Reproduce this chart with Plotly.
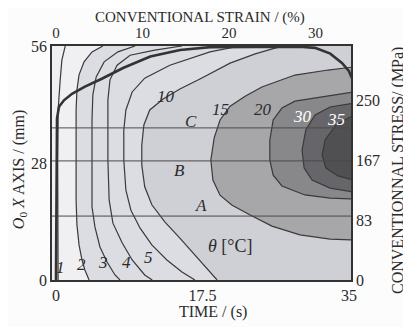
import plotly.graph_objects as go

# ---------------- data ----------------
# Isotherms theta (°C): time (s) vs O0X position (mm)
T_1 = [1.1, 0.7, 0.5, 0.25, 0.2, 0.2, 0.25]
MM_1 = [56, 52.6, 47.9, 40.7, 28.7, 9.6, 0]

T_2 = [5.6, 4.3, 3.35, 2.75, 2.5, 2.4, 2.4, 2.4, 2.5, 2.75, 3.1, 3.45, 3.95]
MM_2 = [56, 54.6, 52.2, 49.1, 45.5, 40.7, 28.7, 19.1, 13.2, 8.4, 4.8, 2.4, 0]

T_3 = [9.45, 7.4, 5.75, 4.8, 4.4, 4.3, 4.3, 4.3, 4.65, 5.25, 6.1, 7.05, 7.65]
MM_3 = [56, 54.6, 52.2, 48.6, 44.3, 38.3, 28.7, 17.5, 12.7, 7.9, 4.3, 1.2, 0]

T_4 = [15.05, 11.8, 8.85, 7.3, 6.45, 6.2, 6.2, 6.35, 6.8, 7.9, 9.1, 10.6, 11.5]
MM_4 = [56, 55.0, 53.8, 51.4, 47.9, 43.1, 28.7, 19.1, 13.6, 8.9, 4.8, 1.2, 0]

T_5 = [22.0, 18.4, 13.6, 10.6, 9.1, 8.35, 8.1, 8.1, 8.35, 8.95, 10.05, 11.45, 13.25, 15.05, 16.6]
MM_5 = [56, 54.6, 51.4, 48.3, 45.0, 40.7, 35.9, 28.7, 21.5, 16.7, 12.4, 8.4, 4.8, 1.9, 0]

T_10 = [27.4, 26.15, 23.8, 20.8, 17.2, 14.8, 12.8, 11.2, 10.5, 10.25, 10.25, 10.6, 11.45,
        13.0, 14.8, 16.6, 18.15, 19.25]
MM_10 = [56, 55.5, 54.1, 51.9, 48.1, 45.7, 43.3, 40.7, 37.1, 32.3, 27.5, 22.3, 18.0,
         13.9, 10.0, 6.0, 2.4, 0]

T_15 = [35.6, 32.5, 28.55, 24.6, 22.6, 20.8, 19.6, 18.9, 18.5, 18.75, 19.6, 21.0, 23.2,
        25.8, 29.15, 32.75, 35.6]
MM_15 = [51.0, 50.25, 49.05, 46.2, 44.0, 41.6, 38.3, 34.0, 28.7, 23.9, 20.3, 17.95, 15.55,
         12.9, 10.8, 9.8, 9.6]

T_20 = [35.6, 31.55, 28.55, 27.0, 25.95, 25.55, 25.55, 25.95, 27.0, 29.75, 32.75, 35.6]
MM_20 = [45.0, 43.8, 42.8, 41.15, 38.3, 33.5, 28.7, 25.1, 22.5, 20.35, 19.6, 19.4]

T_30 = [35.6, 32.75, 30.95, 29.85, 29.4, 29.65, 30.6, 32.75, 35.6]
MM_30 = [42.35, 41.4, 39.5, 35.9, 31.1, 26.8, 23.9, 22.0, 21.05]

T_35 = [35.6, 33.45, 32.15, 31.8, 32.25, 33.7, 35.6]
MM_35 = [39.5, 37.1, 33.5, 29.9, 26.8, 24.9, 23.9]

# Conventional stress-strain curve (top / right axes)
STRAIN = [0, 0.03, 0.07, 0.12, 0.35, 0.92, 1.85, 3.35, 5.3, 7.75, 10.9, 14.35, 17.8,
          21.3, 25.3, 28.2, 29.95, 31.7, 33.05, 33.85, 34.2]
STRESS = [0, 111, 167, 225, 241, 250, 259, 269, 280, 295, 311, 320, 324,
          324.5, 324.5, 324.5, 323, 315, 302, 291, 281]

# Reference lines A, B, C (mm)
LINE_NAMES = ["A", "B", "C"]
LINE_MM = [15.3, 28.5, 36.4]

# Tick values / labels
TIME_TICKS = [0, 17.5, 35]
TIME_LABELS = ["0", "17.5", "35"]
MM_TICKS = [0, 28, 56]
STRAIN_TICKS = [0, 10, 20, 30]
STRESS_TICKS = [0, 83, 167, 250]

# isotherm label positions (time, mm)
LABELS = ["1", "2", "3", "4", "5", "10", "15", "20", "30", "35"]
LAB_T = [0.5, 3.1, 5.6, 8.4, 11.0, 13.1, 19.6, 24.7, 29.4, 33.5]
LAB_MM = [2.9, 3.6, 4.3, 4.3, 5.3, 43.8, 40.7, 40.7, 39.2, 38.3]
LAB_T_ABC = [17.3, 14.8, 16.1]
LAB_MM_ABC = [17.9, 26.3, 38.0]

# ---------------- figure ----------------
FONT = "Liberation Serif"
INK = "#2b2b2b"
LINE = "#3a3a3a"
T_EDGE = 36.0

fig = go.Figure()

def open_fill(t, mm, color):
    fig.add_trace(go.Scatter(x=t + [T_EDGE, T_EDGE], y=mm + [0, 56], mode="none",
                             fill="toself", fillcolor=color, hoverinfo="skip",
                             showlegend=False))

def closed_fill(t, mm, color):
    fig.add_trace(go.Scatter(x=t, y=mm, mode="none", fill="toself", fillcolor=color,
                             hoverinfo="skip", showlegend=False))

open_fill(T_2, MM_2, "#dcdce3")
open_fill(T_10, MM_10, "#cfcfd6")
closed_fill(T_15, MM_15, "#a7a7aa")
closed_fill(T_20, MM_20, "#88888b")
closed_fill(T_30, MM_30, "#66666a")
closed_fill(T_35, MM_35, "#505053")

for t, mm in [(T_1, MM_1), (T_2, MM_2), (T_3, MM_3), (T_4, MM_4), (T_5, MM_5),
              (T_10, MM_10), (T_15, MM_15), (T_20, MM_20), (T_30, MM_30), (T_35, MM_35)]:
    fig.add_trace(go.Scatter(x=t, y=mm, mode="lines", line=dict(color=LINE, width=1.2),
                             hoverinfo="skip", showlegend=False))

for v in LINE_MM:
    fig.add_trace(go.Scatter(x=[-1, 36], y=[v, v], mode="lines",
                             line=dict(color="#4a4a4a", width=1), hoverinfo="skip",
                             showlegend=False))

fig.add_trace(go.Scatter(x=STRAIN, y=STRESS, xaxis="x2", yaxis="y2", mode="lines",
                         line=dict(color="#333333", width=2.6), hoverinfo="skip",
                         showlegend=False))

ann = []
for txt, t, m in zip(LABELS, LAB_T, LAB_MM):
    col = "white" if txt in ("30", "35") else INK
    ann.append(dict(x=t, y=m, xref="x", yref="y", text=f"<i>{txt}</i>", showarrow=False,
                    font=dict(family=FONT, size=17, color=col)))
for txt, t, m in zip(LINE_NAMES, LAB_T_ABC, LAB_MM_ABC):
    ann.append(dict(x=t, y=m, xref="x", yref="y", text=f"<i>{txt}</i>", showarrow=False,
                    font=dict(family=FONT, size=17, color=INK)))
ann.append(dict(x=20.8, y=8.1, xref="x", yref="y", text="<i>θ</i> [°C]", showarrow=False,
                font=dict(family=FONT, size=18, color=INK)))

# axis titles (placed explicitly)
title_font = dict(family=FONT, size=16, color=INK)
ann.append(dict(x=0.495, y=1.122, xref="paper", yref="paper", xanchor="center", yanchor="middle",
                text="CONVENTIONAL STRAIN / (%)", showarrow=False,
                font=dict(family=FONT, size=15, color=INK)))
ann.append(dict(x=0.538, y=-0.138, xref="paper", yref="paper", xanchor="center", yanchor="middle",
                text="TIME / (s)", showarrow=False, font=title_font))
ann.append(dict(x=-0.11, y=0.47, xref="paper", yref="paper", xanchor="center", yanchor="middle",
                textangle=-90, text="<i>O</i><sub>0</sub> <i>X</i> AXIS / (mm)",
                showarrow=False, font=title_font))
ann.append(dict(x=1.157, y=0.47, xref="paper", yref="paper", xanchor="center", yanchor="middle",
                textangle=-90, text="CONVENTIONNAL STRESS/ (MPa)",
                showarrow=False, font=title_font))

axis_common = dict(showgrid=False, zeroline=False, showline=True, linecolor="#333333",
                   linewidth=1.5, ticks="")
tf16 = dict(family=FONT, size=16, color=INK)
tf15 = dict(family=FONT, size=15, color=INK)

# the page body adds an 8 px offset, so the figure is 8 px smaller and margins shifted
fig.update_layout(
    width=403, height=319,
    margin=dict(l=44, r=60, t=38, b=47),
    paper_bgcolor="#fcfcfc",
    plot_bgcolor="#f0f0f2",
    annotations=ann,
    xaxis=dict(range=[-0.48, 35.25], tickvals=TIME_TICKS, ticktext=TIME_LABELS,
               tickfont=tf16, **axis_common),
    xaxis2=dict(range=[-0.46, 34.1], tickvals=STRAIN_TICKS, overlaying="x", side="top",
                tickfont=tf15, **axis_common),
    yaxis=dict(range=[0, 56], tickvals=MM_TICKS, tickfont=tf16, **axis_common),
    yaxis2=dict(range=[0, 325.6], tickvals=STRESS_TICKS, overlaying="y", side="right",
                tickfont=tf16, **axis_common),
)

fig.write_html("out.html")
